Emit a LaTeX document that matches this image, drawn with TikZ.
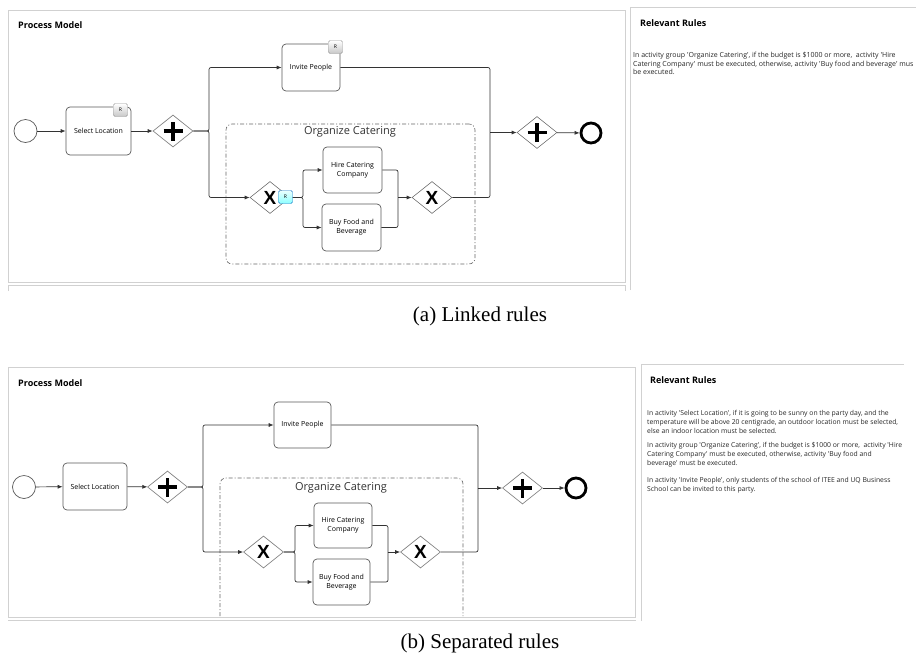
\documentclass[tikz,border=0pt]{standalone}
\usepackage{fontspec}
\setmainfont{Liberation Serif}
\newfontfamily\uifont{Open Sans}
\newfontfamily\xfont{Liberation Sans}
\usetikzlibrary{shapes.geometric,arrows.meta}
\begin{document}
\begin{tikzpicture}[x=1pt,y=-1pt,
  frame/.style={draw=black!18, line width=0.9pt},
  task/.style={draw=black!65, rounded corners=4pt, line width=0.7pt, align=center,
    font=\uifont\fontsize{7}{8.8}\selectfont, inner sep=1pt, fill=white},
  gate/.style={diamond, draw=black!55, line width=0.6pt, minimum width=40pt,
    minimum height=32pt, inner sep=0pt, fill=white},
  pgate/.style={gate, path picture={
    \draw[line width=3.4pt,black]
      ([yshift=-9.5pt]path picture bounding box.center) -- ([yshift=9.5pt]path picture bounding box.center)
      ([xshift=-9.5pt]path picture bounding box.center) -- ([xshift=9.5pt]path picture bounding box.center);}},
  xgate/.style={gate, path picture={
    \node[font=\xfont\bfseries\fontsize{19}{19}\selectfont, inner sep=0pt] at (path picture bounding box.center) {X};}},
  startev/.style={circle, draw=black!65, line width=0.7pt, minimum size=23pt, inner sep=0pt, fill=white},
  endev/.style={circle, draw=black, line width=2.8pt, minimum size=20pt, inner sep=0pt, fill=white},
  flow/.style={draw=black!80, line width=0.7pt, -{Latex[length=5pt,width=4pt]}, rounded corners=2pt},
  line/.style={draw=black!80, line width=0.7pt, rounded corners=2pt},
  badge/.style={draw=black!40, rounded corners=1.5pt, minimum width=14pt, minimum height=13pt,
    inner sep=0pt, top color=white, bottom color=black!22, font=\uifont\fontsize{5}{5}\selectfont},
  bbadge/.style={badge, draw=cyan!55!blue, top color=cyan!8, bottom color=cyan!45},
  group/.style={draw=black!60, line width=0.6pt, rounded corners=6pt,
    dash pattern=on 4pt off 2pt on 1pt off 2pt},
  grouplabel/.style={font=\uifont\fontsize{11}{12}\selectfont, text=black!80},
  paneltitle/.style={font=\uifont\bfseries\fontsize{9}{10}\selectfont, anchor=west, inner sep=0pt},
  rulesA/.style={font=\uifont\fontsize{7.0}{8.6}\selectfont, align=left, anchor=north west, inner sep=0pt, text=black!85},
  rulesB/.style={font=\uifont\fontsize{6.8}{9}\selectfont, align=left, anchor=north west, inner sep=0pt, text=black!85},
  caption/.style={font=\fontsize{21}{23}\selectfont, anchor=base}
]
\useasboundingbox (0,0) rectangle (916,662);

% ================= (a) =================
\draw[frame] (8,10) rectangle (625,282);
\draw[frame] (8,291) -- (8,285.5) -- (625,285.5) -- (625,291);
\draw[frame] (630.5,290) -- (630.5,7) -- (916,7);
\node[paneltitle] (pm1) at (18,25) {Process Model};
\node[paneltitle] (rr1) at (640,23) {Relevant Rules};
\node[rulesA] (rt1) at (633,52) {In activity group 'Organize Catering', if the budget is \$1000 or more,~ activity 'Hire\\
Catering Company' must be executed, otherwise, activity 'Buy food and beverage' mus\\
be executed.};

\node[group, minimum width=249pt, minimum height=140pt] (oc1) at (350.5,194) {};
\node[grouplabel] (ocl1) at (350,132) {Organize Catering};

\node[startev] (s1) at (25.5,131) {};
\node[task, minimum width=65pt, minimum height=48pt] (sl1) at (98.5,131) {Select Location};
\node[pgate] (pg1) at (173,131) {};
\coordinate (sp1) at (209,131);
\node[task, minimum width=58pt, minimum height=47pt] (ip1) at (311,67.5) {Invite People};
\node[xgate] (xs1) at (270,197.5) {};
\coordinate (br1) at (303,197.5);
\node[task, minimum width=59pt, minimum height=46pt] (hc1) at (352.5,170) {Hire Catering\\Company};
\node[task, minimum width=59pt, minimum height=47pt] (bf1) at (351.5,227.5) {Buy Food and\\Beverage};
\coordinate (jn1) at (398,197.5);
\node[xgate] (xj1) at (432,197.5) {};
\coordinate (jp1) at (490,132.5);
\node[pgate] (pj1) at (537,132.5) {};
\node[endev] (e1) at (591,133) {};

\draw[flow] (s1) -- (sl1);
\draw[flow] (sl1) -- (pg1);
\draw[flow] (pg1.east) -- (sp1) |- (ip1.west);
\draw[flow] (pg1.east) -- (sp1) |- (xs1.west);
\draw[flow] (xs1.east) -- (br1) |- (hc1.west);
\draw[flow] (xs1.east) -- (br1) |- (bf1.west);
\draw[line] (hc1.east) -| (jn1);
\draw[line] (bf1.east) -| (jn1);
\draw[flow] (jn1) -- (xj1.west);
\draw[line] (ip1.east) -| (jp1);
\draw[line] (xj1.east) -| (jp1);
\draw[flow] (jp1) -- (pj1.west);
\draw[flow] (pj1) -- (e1);

\node[badge] (rb1) at (120.5,110) {R};
\node[badge] (rb2) at (335.5,47) {R};
\node[bbadge] (rb3) at (285.5,197) {R};

\node[caption] (cap1) at (480,321) {(a) Linked rules};

% ================= (b) =================
\draw[frame] (8,367) rectangle (635.5,617);
\draw[frame] (8,620.5) -- (635.5,620.5);
\draw[frame] (641.5,621) -- (641.5,364.5) -- (904,364.5);
\node[paneltitle] (pm2) at (18,383) {Process Model};
\node[paneltitle] (rr2) at (650,380) {Relevant Rules};
\node[rulesB] (rt2a) at (647,410.5) {In activity 'Select Location', if it is going to be sunny on the party day, and the\\
temperature will be above 20 centigrade, an outdoor location must be selected,\\
else an indoor location must be selected.};
\node[rulesB] (rt2b) at (647,442.5) {In activity group 'Organize Catering', if the budget is \$1000 or more,~ activity 'Hire\\
Catering Company' must be executed, otherwise, activity 'Buy food and\\
beverage' must be executed.};
\node[rulesB] (rt2c) at (647,477.5) {In activity 'Invite People', only students of the school of ITEE and UQ Business\\
School can be invited to this party.};

\draw[group] (220,616) -- (220,478) -- (463,478) -- (463,616);
\node[grouplabel] (ocl2) at (341,488) {Organize Catering};

\node[startev] (s2) at (24,487) {};
\node[task, minimum width=64pt, minimum height=47pt] (sl2) at (95,486.5) {Select Location};
\node[pgate] (pg2) at (167.5,487) {};
\coordinate (sp2) at (203,487);
\node[task, minimum width=57pt, minimum height=46pt] (ip2) at (302.5,425) {Invite People};
\node[xgate] (xs2) at (263.5,552) {};
\coordinate (br2) at (295,552);
\node[task, minimum width=58pt, minimum height=45pt] (hc2) at (343,525.5) {Hire Catering\\Company};
\node[task, minimum width=57pt, minimum height=46pt] (bf2) at (341.5,582) {Buy Food and\\Beverage};
\coordinate (jn2) at (388,552);
\node[xgate] (xj2) at (420.5,552) {};
\coordinate (jp2) at (478,488);
\node[pgate] (pj2) at (522.5,488) {};
\node[endev] (e2) at (576,488) {};

\draw[flow] (s2) -- (sl2);
\draw[flow] (sl2) -- (pg2);
\draw[flow] (pg2.east) -- (sp2) |- (ip2.west);
\draw[flow] (pg2.east) -- (sp2) |- (xs2.west);
\draw[flow] (xs2.east) -- (br2) |- (hc2.west);
\draw[flow] (xs2.east) -- (br2) |- (bf2.west);
\draw[line] (hc2.east) -| (jn2);
\draw[line] (bf2.east) -| (jn2);
\draw[flow] (jn2) -- (xj2.west);
\draw[line] (ip2.east) -| (jp2);
\draw[line] (xj2.east) -| (jp2);
\draw[flow] (jp2) -- (pj2.west);
\draw[flow] (pj2) -- (e2);

\node[caption] (cap2) at (480,648) {(b) Separated rules};
\end{tikzpicture}
\end{document}
